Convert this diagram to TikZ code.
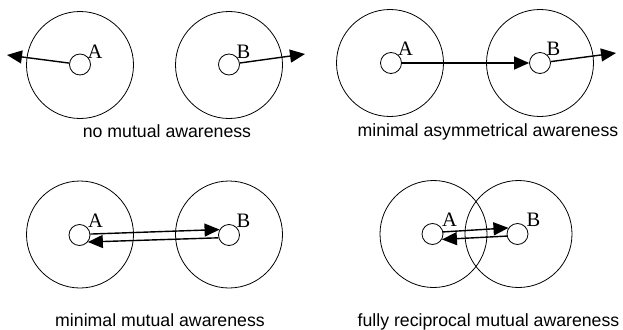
\documentclass[tikz,border=0pt]{standalone}
\usepackage{fontspec}
\setmainfont{Liberation Serif}
\newfontfamily\capfont{Liberation Sans}
\usetikzlibrary{arrows.meta}
\begin{document}
\begin{tikzpicture}[x=1pt,y=-1pt,
  zone/.style={draw, circle, minimum size=107pt, inner sep=0pt, line width=0.8pt},
  agent/.style={draw, circle, fill=white, minimum size=21pt, inner sep=0pt, line width=0.8pt},
  lbl/.style={inner sep=0pt, font=\fontsize{20.5}{21}\selectfont},
  captxt/.style={inner sep=0pt, anchor=base, font=\capfont\fontsize{17.7}{20}\selectfont},
  aw/.style={line width=1.4pt, -{Triangle[length=15pt,width=13pt]}}]
\fill[white] (0,0) rectangle (623,329);
\useasboundingbox (0,0) rectangle (623,329);
% panel 1
\node[zone] (ZA1) at (80,65) {};
\node[zone] (ZB1) at (229,65) {};
\node[agent] (A1) at (80,64.5) {};
\node[agent] (B1) at (229,64.5) {};
\node[lbl] (LA1) at (95,51.5) {A};
\node[lbl] (LB1) at (243.5,51.5) {B};
\coordinate (t1) at (7,55);
\coordinate (t2) at (305,54);
\draw[aw] (A1) -- (t1);
\draw[aw] (B1) -- (t2);
\node[captxt] (C1) at (167,137) {no mutual awareness};
% panel 2
\node[zone] (ZA2) at (390,63) {};
\node[zone] (ZB2) at (540,63) {};
\node[agent] (A2) at (391,63) {};
\node[agent] (B2) at (540,63) {};
\node[lbl] (LA2) at (405.5,49) {A};
\node[lbl] (LB2) at (553.5,49) {B};
\coordinate (t3) at (616,53);
\draw[aw] (A2) -- (B2);
\draw[aw] (B2) -- (t3);
\node[captxt] (C2) at (488,136) {minimal asymmetrical awareness};
% panel 3
\node[zone] (ZA3) at (80,234.5) {};
\node[zone] (ZB3) at (229,234.5) {};
\node[agent] (A3) at (79.5,235) {};
\node[agent] (B3) at (229,235) {};
\node[lbl] (LA3) at (95.5,221) {A};
\node[lbl] (LB3) at (243.5,220.5) {B};
\draw[aw] (A3.5) -- (B3.150);
\draw[aw] (B3.195) -- (A3.-40);
\node[captxt] (C3) at (160,326) {minimal mutual awareness};
% panel 4
\node[zone] (ZA4) at (433.5,234) {};
\node[zone] (ZB4) at (518.5,234) {};
\node[agent] (A4) at (432.5,234) {};
\node[agent] (B4) at (517.5,234) {};
\node[lbl] (LA4) at (449.5,220) {A};
\node[lbl] (LB4) at (533.5,220) {B};
\draw[aw] (A4.11) -- (B4.146);
\draw[aw] (B4.191) -- (A4.-30);
\node[captxt] (C4) at (488.5,326) {fully reciprocal mutual awareness};
\end{tikzpicture}
\end{document}
